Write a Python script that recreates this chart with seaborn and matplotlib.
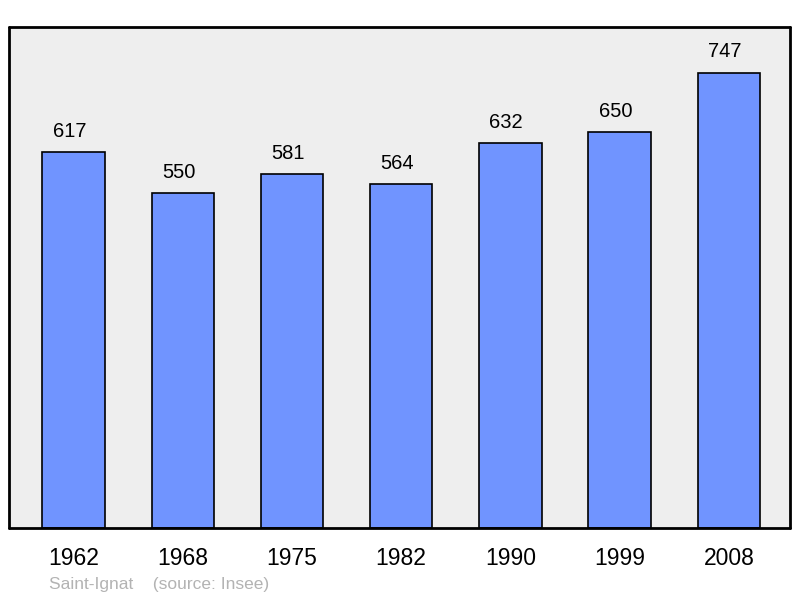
import matplotlib.pyplot as plt
import pandas as pd
import seaborn as sns

YEARS = ["1962", "1968", "1975", "1982", "1990", "1999", "2008"]
POPULATION = [617, 550, 581, 564, 632, 650, 747]
BAR_COLOR = "#7094ff"


def main() -> None:
    sns.set_theme(style="white")
    plt.rcParams["font.family"] = ["Liberation Sans", "DejaVu Sans"]

    df = pd.DataFrame({"year": YEARS, "population": POPULATION})

    fig = plt.figure(figsize=(8, 5.98), dpi=100)
    ax = fig.add_axes([0.01125, 0.1171, 0.97625, 0.8377])
    ax.set_facecolor("#eeeeee")

    sns.barplot(
        data=df, x="year", y="population", color=BAR_COLOR,
        width=0.57, edgecolor="black", linewidth=1.2, saturation=1, ax=ax,
    )
    # Value labels sit a touch left of the bar centre, as in the original.
    for bar, value in zip(ax.containers[0], POPULATION):
        ax.annotate(
            str(value), (bar.get_x() + bar.get_width() / 2, bar.get_height()),
            xytext=(-3, 8), textcoords="offset points",
            ha="center", va="bottom", fontsize=14.5, color="black",
        )

    ax.set_xlim(-0.59, 6.56)
    ax.set_ylim(0, max(POPULATION) * 1.1)
    ax.set_yticks([])
    ax.set_xlabel("")
    ax.set_ylabel("")
    ax.tick_params(axis="x", length=0, pad=14, labelsize=16.5, colors="black")
    for spine in ax.spines.values():
        spine.set_visible(True)
        spine.set_color("black")
        spine.set_linewidth(2)
        spine.set_capstyle("round")
        spine.set_joinstyle("round")

    fig.text(49 / 800, 1 - 584 / 598, "Saint-Ignat    (source: Insee)",
             fontsize=12.5, color="#b3b3b3", va="center", ha="left")

    fig.savefig("out.png", dpi=100)


if __name__ == "__main__":
    main()
